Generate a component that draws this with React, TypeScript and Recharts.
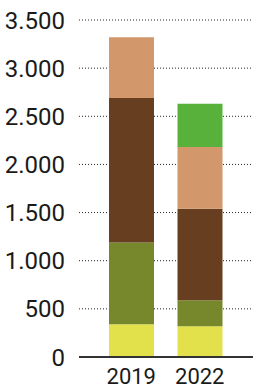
import React from 'react';
import { BarChart, Bar, XAxis, YAxis, CartesianGrid } from 'recharts';

const years = ['2019', '2022'];
const yellowVals = [340, 320];
const oliveVals = [850, 270];
const brownVals = [1500, 950];
const tanVals = [630, 640];
const greenVals = [0, 450];
const yTicks = [0, 500, 1000, 1500, 2000, 2500, 3000, 3500];

const data = years.map((year, i) => ({
  year,
  yellow: yellowVals[i],
  olive: oliveVals[i],
  brown: brownVals[i],
  tan: tanVals[i],
  green: greenVals[i],
}));

const formatThousands = (v: number) =>
  String(v).replace(/\B(?=(\d{3})+(?!\d))/g, '.');

const App: React.FC = () => {
  return (
    <div style={{ position: 'absolute', left: 0, top: 0, width: 253, height: 390, fontFamily: 'Roboto, sans-serif' }}>
      <BarChart
        width={253}
        height={390}
        data={data}
        margin={{ top: 20, right: 0, left: 0, bottom: 0 }}
      >
        <CartesianGrid vertical={false} stroke="#222" strokeDasharray="1 2" />
        <XAxis
          dataKey="year"
          height={33}
          padding={{ left: 18, right: 19 }}
          tickLine={false}
          tickSize={0}
          tickMargin={11}
          axisLine={{ stroke: '#333', strokeWidth: 2 }}
          tick={{ fill: '#1a1a1a', fontSize: 22 }}
        />
        <YAxis
          width={79}
          domain={[0, 3500]}
          ticks={yTicks}
          interval={0}
          tickFormatter={formatThousands}
          axisLine={false}
          tickLine={false}
          tickSize={0}
          tickMargin={14}
          tick={{ fill: '#1a1a1a', fontSize: 24 }}
        />
        <Bar dataKey="yellow" stackId="a" fill="#E2E04B" barSize={45} isAnimationActive={false} />
        <Bar dataKey="olive" stackId="a" fill="#76882B" barSize={45} isAnimationActive={false} />
        <Bar dataKey="brown" stackId="a" fill="#673F20" barSize={45} isAnimationActive={false} />
        <Bar dataKey="tan" stackId="a" fill="#D2976A" barSize={45} isAnimationActive={false} />
        <Bar dataKey="green" stackId="a" fill="#58B13A" barSize={45} isAnimationActive={false} />
      </BarChart>
    </div>
  );
};

export default App;
